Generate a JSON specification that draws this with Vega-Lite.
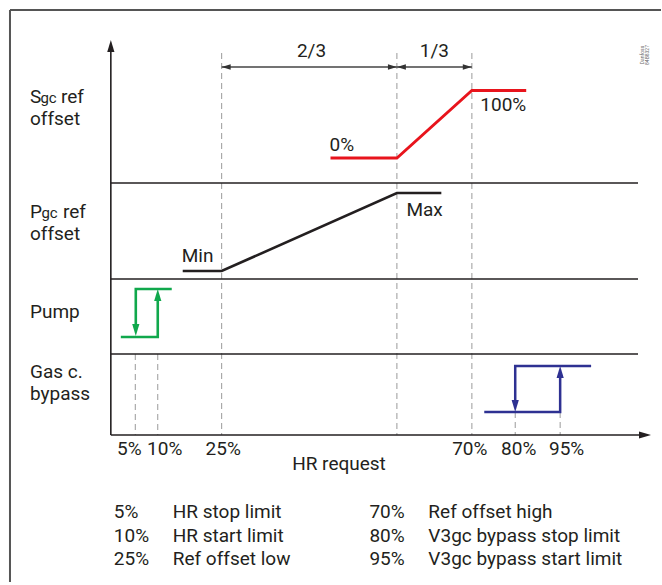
{
  "$schema": "https://vega.github.io/schema/vega-lite/v6.json",
  "width": 662,
  "height": 585,
  "autosize": {"type": "fit", "contains": "padding"},
  "padding": 0,
  "background": "white",
  "view": {"stroke": null},
  "config": {"text": {"font": "Roboto", "color": "#231f20"}},
  "datasets": {
    "frameH": [{"x": 10, "x2": 662, "y": 10}],
    "frameV": [{"x": 10, "y": 10, "y2": 582}],
    "dashed": [
      {"x": 135.5, "y": 354, "y2": 435},
      {"x": 158, "y": 354, "y2": 435},
      {"x": 222, "y": 53, "y2": 435},
      {"x": 397.5, "y": 53, "y2": 435},
      {"x": 472.6, "y": 53, "y2": 435},
      {"x": 516, "y": 412, "y2": 435},
      {"x": 561, "y": 412, "y2": 435}
    ],
    "axesH": [
      {"x": 111, "x2": 641, "y": 435},
      {"x": 111, "x2": 639, "y": 183},
      {"x": 111, "x2": 639, "y": 279},
      {"x": 111, "x2": 639, "y": 354}
    ],
    "axesV": [{"x": 111, "y": 46, "y2": 435}],
    "dimH": [
      {"x": 222, "x2": 397.5, "y": 67},
      {"x": 397.5, "x2": 472.6, "y": 67}
    ],
    "curves": [
      {"seg": "s", "group": "Sgc", "ord": 1, "x": 331, "y": 158},
      {"seg": "s", "group": "Sgc", "ord": 2, "x": 397.5, "y": 158},
      {"seg": "s", "group": "Sgc", "ord": 3, "x": 472.6, "y": 90.5},
      {"seg": "s", "group": "Sgc", "ord": 4, "x": 527, "y": 90.5},
      {"seg": "p", "group": "Pgc", "ord": 1, "x": 183, "y": 271},
      {"seg": "p", "group": "Pgc", "ord": 2, "x": 222, "y": 271},
      {"seg": "p", "group": "Pgc", "ord": 3, "x": 397.5, "y": 193},
      {"seg": "p", "group": "Pgc", "ord": 4, "x": 442, "y": 193},
      {"seg": "pa", "group": "Pump", "ord": 1, "x": 172, "y": 289},
      {"seg": "pa", "group": "Pump", "ord": 2, "x": 136, "y": 289},
      {"seg": "pa", "group": "Pump", "ord": 3, "x": 136, "y": 330},
      {"seg": "pb", "group": "Pump", "ord": 1, "x": 121, "y": 337},
      {"seg": "pb", "group": "Pump", "ord": 2, "x": 158, "y": 337},
      {"seg": "pb", "group": "Pump", "ord": 3, "x": 158, "y": 296},
      {"seg": "ba", "group": "Bypass", "ord": 1, "x": 592, "y": 366},
      {"seg": "ba", "group": "Bypass", "ord": 2, "x": 516, "y": 366},
      {"seg": "ba", "group": "Bypass", "ord": 3, "x": 516, "y": 406},
      {"seg": "bb", "group": "Bypass", "ord": 1, "x": 485, "y": 412},
      {"seg": "bb", "group": "Bypass", "ord": 2, "x": 561, "y": 412},
      {"seg": "bb", "group": "Bypass", "ord": 3, "x": 561, "y": 372}
    ],
    "arrows": [
      {"x": 136, "y": 330, "dir": "down", "group": "Pump"},
      {"x": 158, "y": 295, "dir": "up", "group": "Pump"},
      {"x": 516, "y": 406, "dir": "down", "group": "Bypass"},
      {"x": 561, "y": 372, "dir": "up", "group": "Bypass"},
      {"x": 111, "y": 46, "dir": "up", "group": "Axis"},
      {"x": 646, "y": 435, "dir": "right", "group": "Axis"}
    ],
    "dimArrows": [
      {"x": 226.5, "y": 67, "dir": "left", "group": "Dim"},
      {"x": 393, "y": 67, "dir": "right", "group": "Dim"},
      {"x": 402, "y": 67, "dir": "left", "group": "Dim"},
      {"x": 468, "y": 67, "dir": "right", "group": "Dim"}
    ],
    "labels": [
      {"x": 30, "y": 97, "text": "S"},
      {"x": 61, "y": 97, "text": "ref"},
      {"x": 30, "y": 119, "text": "offset"},
      {"x": 30, "y": 212, "text": "P"},
      {"x": 63, "y": 212, "text": "ref"},
      {"x": 30, "y": 234, "text": "offset"},
      {"x": 30, "y": 312, "text": "Pump"},
      {"x": 30, "y": 372, "text": "Gas c."},
      {"x": 30, "y": 394, "text": "bypass"},
      {"x": 330, "y": 145, "text": "0%"},
      {"x": 481, "y": 105, "text": "100%"},
      {"x": 182, "y": 256, "text": "Min"},
      {"x": 407, "y": 210, "text": "Max"},
      {"x": 114, "y": 512, "text": "5%"},
      {"x": 114, "y": 536, "text": "10%"},
      {"x": 114, "y": 559, "text": "25%"},
      {"x": 173, "y": 512, "text": "HR stop limit"},
      {"x": 173, "y": 536, "text": "HR start limit"},
      {"x": 173, "y": 559, "text": "Ref offset low"},
      {"x": 370, "y": 512, "text": "70%"},
      {"x": 370, "y": 536, "text": "80%"},
      {"x": 370, "y": 559, "text": "95%"},
      {"x": 429, "y": 512, "text": "Ref offset high"},
      {"x": 429, "y": 536, "text": "V3gc bypass stop limit"},
      {"x": 429, "y": 559, "text": "V3gc bypass start limit"}
    ],
    "centered": [
      {"x": 312, "y": 51, "text": "2/3"},
      {"x": 435, "y": 51, "text": "1/3"},
      {"x": 129.5, "y": 449, "text": "5%"},
      {"x": 165, "y": 449, "text": "10%"},
      {"x": 223.5, "y": 449, "text": "25%"},
      {"x": 470.5, "y": 449, "text": "70%"},
      {"x": 519.5, "y": 449, "text": "80%"},
      {"x": 567.5, "y": 449, "text": "95%"},
      {"x": 339.5, "y": 464, "text": "HR request"}
    ],
    "subs": [
      {"x": 40.5, "y": 98.2, "text": "gc"},
      {"x": 41.5, "y": 213.2, "text": "gc"}
    ],
    "stamp": [
      {"x": 643, "y": 55, "text": "Danfoss"},
      {"x": 647.5, "y": 55, "text": "84B8327"}
    ]
  },
  "encoding": {
    "x": {"field": "x", "type": "quantitative", "scale": {"domain": [0, 662], "nice": false, "zero": false}, "axis": null},
    "y": {"field": "y", "type": "quantitative", "scale": {"domain": [0, 585], "reverse": true, "nice": false, "zero": false}, "axis": null}
  },
  "layer": [
    {
      "data": {"name": "frameH"},
      "mark": {"type": "rule", "color": "#555555", "strokeWidth": 2},
      "encoding": {"x2": {"field": "x2"}}
    },
    {
      "data": {"name": "frameV"},
      "mark": {"type": "rule", "color": "#555555", "strokeWidth": 2},
      "encoding": {"y2": {"field": "y2"}}
    },
    {
      "data": {"name": "dashed"},
      "mark": {"type": "rule", "color": "#9a9a9a", "strokeWidth": 1, "strokeDash": [6, 4]},
      "encoding": {"y2": {"field": "y2"}}
    },
    {
      "data": {"name": "axesH"},
      "mark": {"type": "rule", "color": "#231f20", "strokeWidth": 1.6},
      "encoding": {"x2": {"field": "x2"}}
    },
    {
      "data": {"name": "axesV"},
      "mark": {"type": "rule", "color": "#231f20", "strokeWidth": 1.6},
      "encoding": {"y2": {"field": "y2"}}
    },
    {
      "data": {"name": "dimH"},
      "mark": {"type": "rule", "color": "#444444", "strokeWidth": 1.3},
      "encoding": {"x2": {"field": "x2"}}
    },
    {
      "data": {"name": "curves"},
      "mark": {"type": "line", "strokeJoin": "miter", "strokeCap": "butt"},
      "encoding": {
        "detail": {"field": "seg"},
        "order": {"field": "ord", "type": "quantitative"},
        "color": {"field": "group", "type": "nominal", "legend": null,
          "scale": {"domain": ["Sgc", "Pgc", "Pump", "Bypass", "Axis", "Dim"], "range": ["#e8141c", "#231f20", "#10a84c", "#2e3192", "#231f20", "#333333"]}},
        "strokeWidth": {"field": "group", "type": "nominal", "legend": null,
          "scale": {"domain": ["Sgc", "Pgc", "Pump", "Bypass"], "range": [2.8, 2.5, 2, 2]}}
      }
    },
    {
      "data": {"name": "arrows"},
      "mark": {"type": "point", "filled": true, "opacity": 1, "size": 144},
      "encoding": {
        "color": {"field": "group", "type": "nominal", "legend": null},
        "shape": {"field": "dir", "type": "nominal", "legend": null,
          "scale": {"domain": ["up", "down", "left", "right"], "range": ["M0,-1L0.6,1L-0.6,1Z", "M0,1L0.6,-1L-0.6,-1Z", "M-1,0L1,-0.6L1,0.6Z", "M1,0L-1,-0.6L-1,0.6Z"]}}
      }
    },
    {
      "data": {"name": "dimArrows"},
      "mark": {"type": "point", "filled": true, "opacity": 1, "size": 81},
      "encoding": {
        "color": {"field": "group", "type": "nominal", "legend": null},
        "shape": {"field": "dir", "type": "nominal", "legend": null}
      }
    },
    {
      "data": {"name": "labels"},
      "mark": {"type": "text", "align": "left", "baseline": "middle", "fontSize": 19},
      "encoding": {"text": {"field": "text"}}
    },
    {
      "data": {"name": "centered"},
      "mark": {"type": "text", "align": "center", "baseline": "middle", "fontSize": 19},
      "encoding": {"text": {"field": "text"}}
    },
    {
      "data": {"name": "subs"},
      "mark": {"type": "text", "align": "left", "baseline": "middle", "fontSize": 15},
      "encoding": {"text": {"field": "text"}}
    },
    {
      "data": {"name": "stamp"},
      "mark": {"type": "text", "align": "center", "baseline": "middle", "fontSize": 5, "angle": 270, "color": "#666666"},
      "encoding": {"text": {"field": "text"}}
    }
  ]
}
